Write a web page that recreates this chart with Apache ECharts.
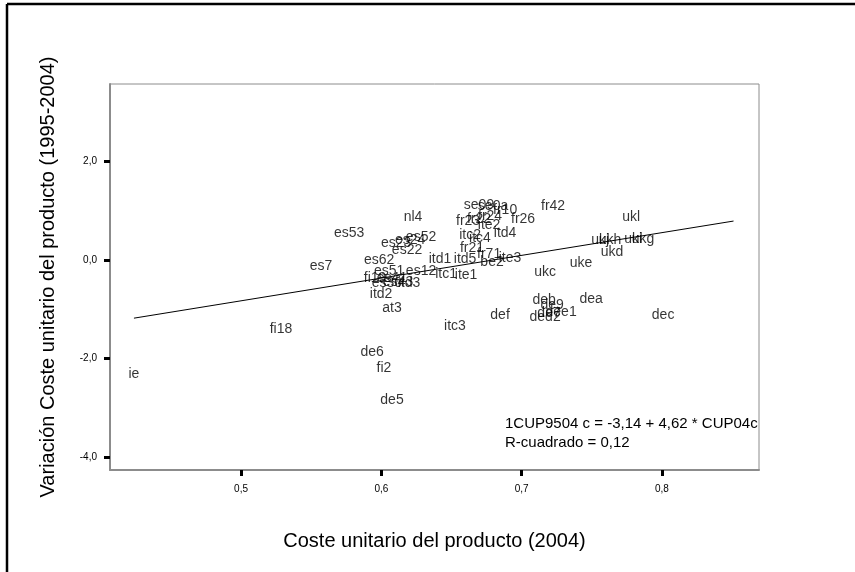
<!DOCTYPE html>
<html>
<head>
<meta charset="utf-8">
<script src="https://cdn.jsdelivr.net/npm/echarts@6/dist/echarts.min.js"></script>
<style>
  html, body { margin: 0; padding: 0; background: #fff; }
  #chart { width: 855px; height: 572px; }
</style>
</head>
<body>
<div id="chart"></div>
<script>
// Case labels (region codes) with their x / y values
const names = [
  'ie', 'fi18', 'es7', 'es53', 'es62', 'nl4', 'es23', 'es24', 'es52', 'es22',
  'es51', 'es12', 'fi19', 'es41', 'es30', 'es43', 'itd3', 'itd2', 'at3', 'de6',
  'fi2', 'de5', 'itc3', 'itd1', 'itc1', 'itd5', 'ite1', 'fr21', 'fr71', 'be2',
  'ite3', 'itc2', 'itc4', 'ite2', 'itd4', 'fr23', 'fr22', 'fr24', 'se09', 'se0a',
  'fr10', 'fr26', 'fr42', 'ukc', 'uke', 'ukl', 'ukj', 'ukh', 'uki', 'ukg',
  'ukd', 'deb', 'de9', 'dee1', 'de7', 'ded2', 'dea', 'def', 'dec'
];
const xVals = [
  0.4237, 0.5285, 0.5570, 0.5770, 0.5984, 0.6226, 0.6105, 0.6205, 0.6283, 0.6183,
  0.6055, 0.6283, 0.5955, 0.6076, 0.6040, 0.6119, 0.6197, 0.5998, 0.6076, 0.5934,
  0.6019, 0.6076, 0.6525, 0.6418, 0.6461, 0.6597, 0.6604, 0.6646, 0.6768, 0.6789,
  0.6917, 0.6632, 0.6703, 0.6768, 0.6882, 0.6618, 0.6696, 0.6775, 0.6696, 0.6796,
  0.6882, 0.7010, 0.7224, 0.7167, 0.7423, 0.7780, 0.7559, 0.7630, 0.7794, 0.7865,
  0.7644, 0.7160, 0.7217, 0.7281, 0.7195, 0.7167, 0.7495, 0.6846, 0.8008
];
const yVals = [
  -2.31, -1.40, -0.12, 0.55, 0.00, 0.87, 0.35, 0.41, 0.47, 0.20,
  -0.22, -0.22, -0.37, -0.37, -0.47, -0.45, -0.47, -0.69, -0.98, -1.87,
  -2.19, -2.84, -1.34, 0.02, -0.28, 0.02, -0.31, 0.24, 0.12, -0.04,
  0.04, 0.51, 0.45, 0.71, 0.55, 0.79, 0.83, 0.89, 1.12, 1.10,
  1.02, 0.83, 1.10, -0.24, -0.06, 0.87, 0.41, 0.41, 0.43, 0.43,
  0.16, -0.81, -0.91, -1.06, -1.08, -1.16, -0.79, -1.12, -1.12
];

// Fitted line end points (linear fit drawn over the data range)
const fitX = [0.4237, 0.851];
const fitY = [-1.18, 0.79];

const xTicks = [0.5, 0.6, 0.7, 0.8];
const yTicks = [-4, -2, 0, 2];

const eqText = '1CUP9504 c = -3,14 + 4,62 * CUP04c';
const r2Text = 'R-cuadrado = 0,12';

const FONT = '"Liberation Sans", Arial, sans-serif';
const fmt = v => v.toFixed(1).replace('.', ',');

const chart = echarts.init(document.getElementById('chart'));
chart.setOption({
  animation: false,
  backgroundColor: '#ffffff',
  grid: {
    left: 110, right: 96, top: 84, bottom: 102,
    show: true, borderColor: '#8c8c8c', borderWidth: 1
  },
  xAxis: {
    type: 'value',
    min: 0.40663, max: 0.86914,
    name: 'Coste unitario del producto (2004)',
    nameLocation: 'middle',
    nameGap: 61,
    nameTextStyle: { fontFamily: FONT, fontSize: 20, color: '#000' },
    axisLine: { show: true, onZero: false, lineStyle: { color: '#8c8c8c', width: 2 } },
    axisTick: {
      show: true, length: 6, inside: false, customValues: xTicks,
      lineStyle: { color: '#000', width: 3 }
    },
    axisLabel: {
      customValues: xTicks, margin: 14,
      fontFamily: FONT, fontSize: 10, color: '#000',
      formatter: v => fmt(v)
    },
    splitLine: { show: false }
  },
  yAxis: {
    type: 'value',
    min: -4.26, max: 3.57,
    name: 'Variación Coste unitario del producto (1995-2004)',
    nameLocation: 'middle',
    nameGap: 52,
    nameTextStyle: { fontFamily: FONT, fontSize: 20, color: '#000' },
    axisLine: { show: true, onZero: false, lineStyle: { color: '#8c8c8c', width: 2 } },
    axisTick: {
      show: true, length: 6, inside: false, customValues: yTicks,
      lineStyle: { color: '#000', width: 3 }
    },
    axisLabel: {
      customValues: yTicks, margin: 13,
      fontFamily: FONT, fontSize: 10, color: '#000',
      formatter: v => fmt(v)
    },
    splitLine: { show: false }
  },
  series: [
    {
      type: 'scatter',
      symbolSize: 1,
      itemStyle: { color: 'rgba(0,0,0,0)' },
      data: names.map((n, i) => ({ name: n, value: [xVals[i], yVals[i]] })),
      label: {
        show: true, position: 'inside',
        formatter: p => p.name,
        fontFamily: FONT, fontSize: 14, color: '#000',
        textBorderWidth: 0
      },
      emphasis: { disabled: true },
      z: 3
    },
    {
      type: 'line',
      data: fitX.map((x, i) => [x, fitY[i]]),
      symbol: 'none',
      lineStyle: { color: '#000', width: 1 },
      emphasis: { disabled: true },
      z: 2
    }
  ],
  graphic: [
    { type: 'line', shape: { x1: 7, y1: 4, x2: 855, y2: 4 }, style: { stroke: '#000', lineWidth: 2.5 } },
    { type: 'line', shape: { x1: 7, y1: 4, x2: 7, y2: 572 }, style: { stroke: '#000', lineWidth: 2.5 } },
    {
      type: 'text', left: 505, top: 416,
      style: { text: eqText, font: '15px ' + FONT, fill: '#000' }
    },
    {
      type: 'text', left: 505, top: 435,
      style: { text: r2Text, font: '15px ' + FONT, fill: '#000' }
    }
  ]
});
</script>
</body>
</html>
